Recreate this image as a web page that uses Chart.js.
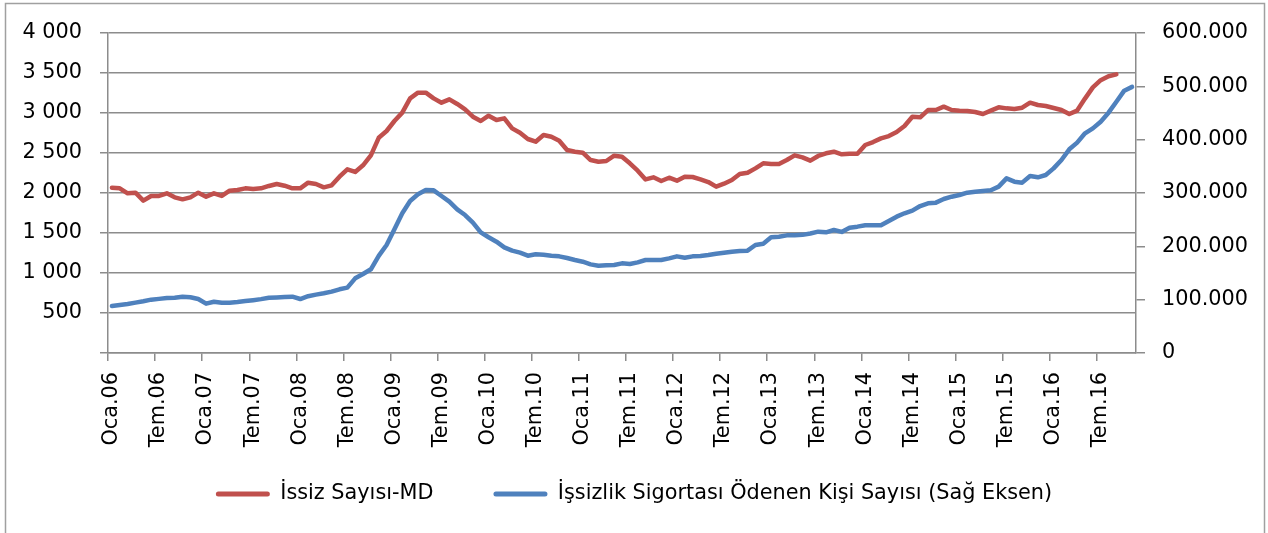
<!DOCTYPE html>
<html>
<head>
<meta charset="utf-8">
<script src="https://cdn.jsdelivr.net/npm/chart.js@4.4.0/dist/chart.umd.min.js"></script>
<style>
html,body{margin:0;padding:0;background:#ffffff;overflow:hidden}
#wrap{width:1268px;height:533px;position:relative}
canvas{display:block}
</style>
</head>
<body>
<div id="wrap"><canvas id="c" width="1268" height="533"></canvas></div>
<script>
// ---- categories (monthly, Oca.06 .. Kas.16) ----
const monthNames = ['Oca','Şub','Mar','Nis','May','Haz','Tem','Ağu','Eyl','Eki','Kas','Ara'];
const years = [2006,2007,2008,2009,2010,2011,2012,2013,2014,2015,2016];
const monthCount = 131;
const categories = [];
for (const y of years) {
  for (const m of monthNames) {
    if (categories.length < monthCount) categories.push(m + '.' + String(y).slice(2));
  }
}

// ---- series: İssiz Sayısı-MD (bin kişi, left axis) ----
const issizSayisi = [
  2066,2058,1996,2004,1904,1963,1963,1996,1946,1921,1946,2004,
  1954,1996,1963,2029,2038,2058,2050,2058,2088,2113,2091,2058,
  2058,2129,2113,2071,2096,2204,2296,2263,2346,2471,2690,2775,
  2900,3005,3183,3254,3254,3183,3129,3171,3113,3046,2954,2900,
  2966,2912,2933,2808,2754,2675,2641,2725,2704,2654,2537,2516,
  2504,2412,2391,2400,2466,2454,2371,2279,2170,2196,2150,2191,
  2154,2204,2200,2171,2137,2079,2116,2162,2237,2254,2308,2371,
  2362,2362,2412,2471,2446,2404,2463,2496,2516,2483,2491,2491,
  2600,2637,2683,2712,2762,2837,2954,2946,3037,3037,3079,3037,
  3029,3025,3012,2987,3029,3071,3058,3050,3066,3129,3100,3087,
  3062,3037,2987,3030,3180,3320,3410,3460,3483
];

// ---- series: İşsizlik Sigortası Ödenen Kişi Sayısı (right axis) ----
const sigortaOdenen = [
  88100,90000,91900,94400,97000,100000,101500,103000,103700,105600,104500,101300,
  92500,96200,94400,94400,95600,97300,99000,101000,103700,104200,105000,105600,
  101200,106500,109500,111900,115000,119400,122500,140000,148100,157000,182000,202500,
  232000,262000,285000,297500,305600,305000,294400,283700,269400,258700,244400,226200,
  217000,208700,198100,191900,188100,182500,185000,184400,182500,181200,178100,174400,
  171200,166200,163700,164400,165000,168100,166900,170000,174400,174400,174400,177500,
  181200,178700,181200,181900,183700,186200,188100,190000,191200,191900,202500,205000,
  217000,218100,220600,220600,221500,224000,227500,226200,230600,227000,235000,236900,
  239400,239400,239400,247500,255600,262000,267000,275600,280600,281900,288700,293100,
  296200,300600,302500,303700,305000,311900,327500,321200,319400,331900,329400,333700,
  346200,361900,381900,394400,411900,421200,433700,450600,471200,491900,499000
];

// ---- axis tick values ----
const leftTicks = [0,500,1000,1500,2000,2500,3000,3500,4000];
const rightTicks = [0,100000,200000,300000,400000,500000,600000];
const xLabelEvery = 6;

const seriesNames = ['İssiz Sayısı-MD', 'İşsizlik Sigortası Ödenen Kişi Sayısı (Sağ Eksen)'];
const redColor = '#C0504D';
const blueColor = '#4F81BD';
const gridColor = '#8c8c8c';
const FONT = 'DejaVu Sans';
const FSIZE = 20.8;
const X_AXIS_H = 100;
const LEGEND_TOP = 423.6;

function groupDigits(v, sep) {
  return String(Math.round(v)).replace(/\B(?=(\d{3})+(?!\d))/g, sep);
}

const legendFitPlugin = {
  id: 'legendFit',
  beforeUpdate(chart) {
    const lg = chart.legend;
    if (lg && !lg._patchedFit) {
      const f = lg.fit;
      lg.fit = function () { f.call(this); this.height = 533 - 353 - X_AXIS_H; };
      lg._patchedFit = true;
    }
  },
  afterLayout(chart) {
    const lg = chart.legend;
    if (lg) {
      const h = lg.height;
      lg.top = LEGEND_TOP;
      lg.bottom = LEGEND_TOP + h;
    }
  }
};

const framePlugin = {
  id: 'frame',
  beforeDraw(chart) {
    const ctx = chart.ctx;
    ctx.save();
    ctx.fillStyle = '#ffffff';
    ctx.fillRect(0, 0, chart.width, chart.height);
    ctx.restore();
  },
  afterDraw(chart) {
    const ctx = chart.ctx;
    ctx.save();
    ctx.strokeStyle = '#a0a0a0';
    ctx.lineWidth = 1.5;
    ctx.strokeRect(5.5, 3.5, 1259, 560);
    ctx.restore();
  }
};

new Chart(document.getElementById('c'), {
  type: 'line',
  data: {
    labels: categories,
    datasets: [
      {
        label: seriesNames[0],
        data: issizSayisi,
        yAxisID: 'y',
        borderColor: redColor,
        backgroundColor: redColor,
        borderWidth: 4.5,
        pointRadius: 0,
        tension: 0,
        borderCapStyle: 'round',
        borderJoinStyle: 'round',
        fill: false
      },
      {
        label: seriesNames[1],
        data: sigortaOdenen,
        yAxisID: 'y1',
        borderColor: blueColor,
        backgroundColor: blueColor,
        borderWidth: 4.5,
        pointRadius: 0,
        tension: 0,
        borderCapStyle: 'round',
        borderJoinStyle: 'round',
        fill: false
      }
    ]
  },
  options: {
    responsive: false,
    animation: false,
    devicePixelRatio: 1,
    layout: { padding: { top: 33, left: 0, right: 0, bottom: 0 } },
    plugins: {
      tooltip: { enabled: false },
      legend: {
        position: 'bottom',
        labels: {
          color: '#000000',
          boxWidth: 54,
          boxHeight: 5,
          padding: 60,
          useBorderRadius: true,
          borderRadius: 2.5,
          font: { family: FONT, size: FSIZE },
          generateLabels: (chart) => chart.data.datasets.map((ds, i) => ({
            text: ds.label,
            fillStyle: ds.borderColor,
            strokeStyle: ds.borderColor,
            lineWidth: 0,
            hidden: false,
            datasetIndex: i,
            borderRadius: 2.5
          }))
        }
      }
    },
    scales: {
      x: {
        type: 'category',
        offset: true,
        grid: {
          offset: true,
          drawOnChartArea: false,
          drawTicks: true,
          tickLength: 8,
          lineWidth: 1.5,
          color: (ctx) => (typeof ctx.index === 'number' && ctx.index % xLabelEvery === 0) ? gridColor : 'rgba(0,0,0,0)'
        },
        border: { display: true, color: gridColor, width: 1.5 },
        ticks: {
          autoSkip: false,
          maxRotation: 90,
          minRotation: 90,
          padding: 11,
          color: '#000000',
          font: { family: FONT, size: FSIZE },
          callback: (v, i) => (i % xLabelEvery === 0 ? categories[i] : '')
        },
        afterFit: (s) => { s.height = X_AXIS_H; }
      },
      y: {
        position: 'left',
        min: leftTicks[0],
        max: leftTicks[leftTicks.length - 1],
        afterBuildTicks: (s) => { s.ticks = leftTicks.map(v => ({ value: v })); },
        grid: { color: gridColor, lineWidth: 1.5, tickLength: 8, drawTicks: true },
        border: { display: true, color: gridColor, width: 1.5 },
        ticks: {
          padding: 18,
          color: '#000000',
          font: { family: FONT, size: FSIZE },
          callback: (v) => (v === 0 ? '' : groupDigits(v, ' '))
        },
        afterFit: (s) => { s.width = 108; }
      },
      y1: {
        position: 'right',
        min: rightTicks[0],
        max: rightTicks[rightTicks.length - 1],
        afterBuildTicks: (s) => { s.ticks = rightTicks.map(v => ({ value: v })); },
        grid: { drawOnChartArea: false, drawTicks: true, tickLength: 9, color: gridColor, lineWidth: 1.5 },
        border: { display: true, color: gridColor, width: 1.5 },
        ticks: {
          padding: 17,
          color: '#000000',
          font: { family: FONT, size: FSIZE },
          callback: (v) => groupDigits(v, '.')
        },
        afterFit: (s) => { s.width = 132; }
      }
    }
  },
  plugins: [legendFitPlugin, framePlugin]
});
</script>
</body>
</html>
